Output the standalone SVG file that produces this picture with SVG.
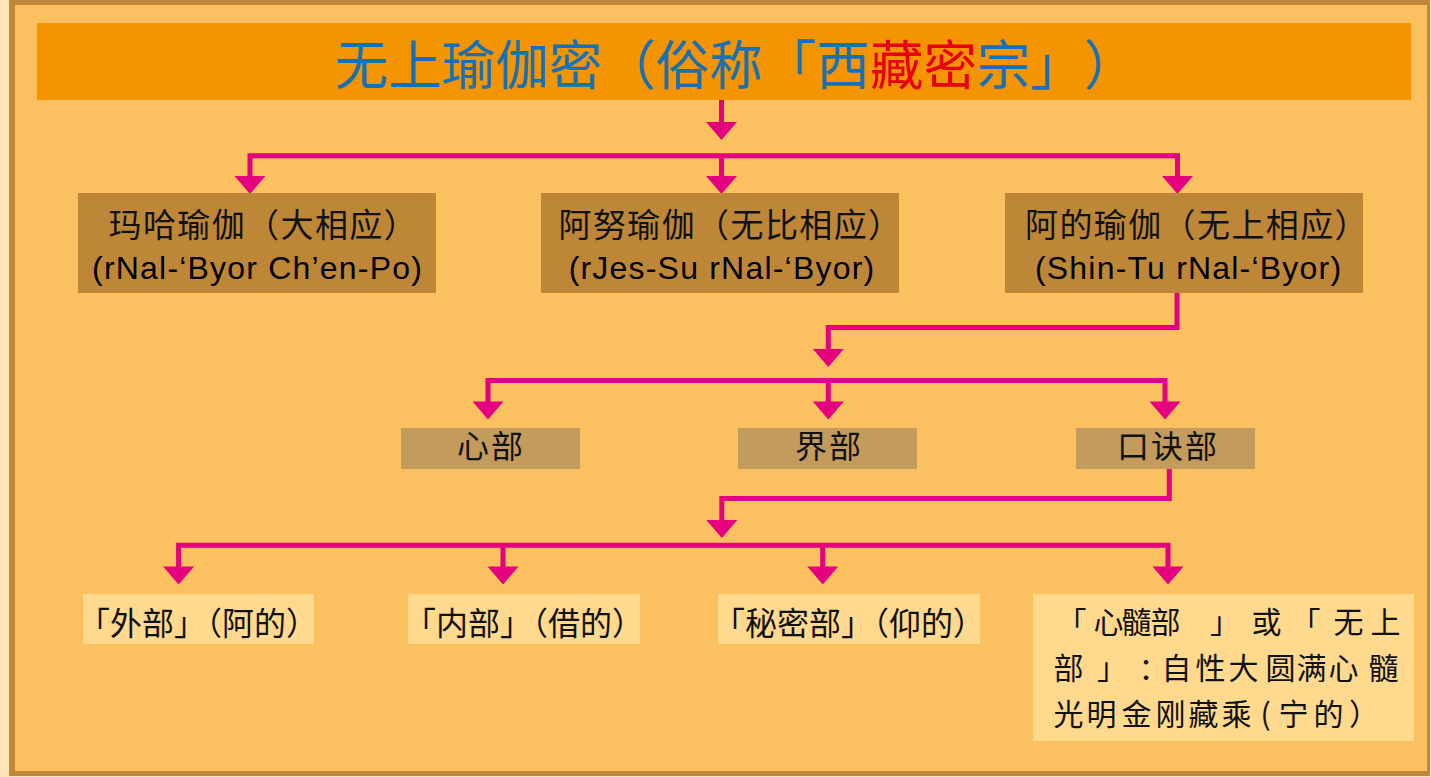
<svg xmlns="http://www.w3.org/2000/svg" xmlns:xlink="http://www.w3.org/1999/xlink" width="1431" height="777" viewBox="0 0 1431 777">
<style>
.conn{fill:none;stroke:#E4007F;stroke-width:5;stroke-linejoin:miter}
.ah{fill:#E4007F}
.b1{fill:#BE8738}
.b2{fill:#C39B5C}
.b3{fill:#FFDA8E}
.cjk{font-family:"Noto Sans CJK SC","Noto Sans CJK TC",sans-serif;fill:#111}
.lat{font-family:"Liberation Sans",Arial,sans-serif;fill:#000}
.l1a{font-size:33px;letter-spacing:1.4px}
.l1b{font-size:32px;letter-spacing:1.2px;text-anchor:middle}
.l2{font-size:32px;letter-spacing:2px;text-anchor:middle}
.l3{font-size:32px;text-anchor:middle}
.l4{font-size:30px}
.blue{fill:#1570B8}
.red{fill:#E60012}
.ttl{text-spacing-trim:space-all}
</style>
<defs>
<path id="ah" class="ah" d="M-15.5 0 H15.5 L0 18 Z"/>
</defs>
<rect x="0" y="0" width="1431" height="777" fill="#FFE6B8"/>
<rect x="9" y="0" width="1421" height="776" fill="#C0883A"/>
<rect x="15" y="5" width="1412" height="766" fill="#FBC160"/>

<g id="title">
<rect x="37" y="23" width="1374" height="77" fill="#F39400"/>
<text class="cjk blue ttl" x="335 388.5 442 495.5 549 602.5 656 709.5 763 816.5" y="84.5" font-size="53.5">无上瑜伽密（俗称「西<tspan class="red" x="870 923.5">藏密</tspan><tspan x="977 1030.5 1084">宗」）</tspan></text>
</g>

<g id="connectors">
<path class="conn" d="M721.5 100 V122"/>
<use xlink:href="#ah" x="721.5" y="122"/>
<path class="conn" d="M250 177 V155.8 H1177.5 V177"/>
<path class="conn" d="M721.5 155.8 V177"/>
<use xlink:href="#ah" x="250" y="176"/>
<use xlink:href="#ah" x="721.5" y="176"/>
<use xlink:href="#ah" x="1177.5" y="176"/>

<path class="conn" d="M1177 293 V327.5 H828.3 V349.5"/>
<use xlink:href="#ah" x="828.3" y="349"/>
<path class="conn" d="M488 402 V380.5 H1165 V402"/>
<path class="conn" d="M828.3 380.5 V402"/>
<use xlink:href="#ah" x="488" y="401.5"/>
<use xlink:href="#ah" x="828.3" y="401.5"/>
<use xlink:href="#ah" x="1165" y="401.5"/>

<path class="conn" d="M1169.3 469 V498.5 H721.8 V520.5"/>
<use xlink:href="#ah" x="721.8" y="520"/>
<path class="conn" d="M178.6 567 V545.2 H1168 V567"/>
<path class="conn" d="M503 545.2 V567 M822.7 545.2 V567"/>
<use xlink:href="#ah" x="178.6" y="566.5"/>
<use xlink:href="#ah" x="503" y="566.5"/>
<use xlink:href="#ah" x="822.7" y="566.5"/>
<use xlink:href="#ah" x="1168" y="566.5"/>
</g>

<g id="n-maha">
<rect class="b1" x="78" y="193" width="358" height="100"/>
<text class="cjk l1a" x="108.5" y="236.7">玛哈瑜伽（大相应）</text>
<text class="lat l1b" x="257.6" y="279">(rNal-‘Byor Ch’en-Po)</text>
</g>
<g id="n-anu">
<rect class="b1" x="541" y="193" width="358" height="100"/>
<text class="cjk l1a" x="558.5" y="236.7">阿努瑜伽（无比相应）</text>
<text class="lat l1b" x="722" y="279">(rJes-Su rNal-‘Byor)</text>
</g>
<g id="n-ati">
<rect class="b1" x="1005" y="193" width="358" height="100"/>
<text class="cjk l1a" x="1025" y="236.7">阿的瑜伽（无上相应）</text>
<text class="lat l1b" x="1188.6" y="279">(Shin-Tu rNal-‘Byor)</text>
</g>

<g id="n-xinbu">
<rect class="b2" x="401" y="428" width="179" height="41"/>
<text class="cjk l2" x="491" y="458">心部</text>
</g>
<g id="n-jiebu">
<rect class="b2" x="738" y="428" width="179" height="41"/>
<text class="cjk l2" x="829" y="458">界部</text>
</g>
<g id="n-koujuebu">
<rect class="b2" x="1076" y="428" width="179" height="41"/>
<text class="cjk l2" x="1168" y="458">口诀部</text>
</g>

<g id="n-waibu">
<rect class="b3" x="83" y="594" width="231" height="50"/>
<text class="cjk l3" x="198" y="634.5">「外部」（阿的）</text>
</g>
<g id="n-neibu">
<rect class="b3" x="408" y="594" width="232" height="50"/>
<text class="cjk l3" x="524" y="634.5">「内部」（借的）</text>
</g>
<g id="n-mimibu">
<rect class="b3" x="718" y="594" width="262" height="50"/>
<text class="cjk l3" x="849" y="634.5">「秘密部」（仰的）</text>
</g>
<g id="n-xinsuibu">
<rect class="b3" x="1033" y="594" width="381" height="147"/>
<text class="cjk l4" x="1056.5 1093.5 1121.5 1150.5 1210 1251.5 1290.5 1333.5 1370.5" y="633">「心髓部」或「无上</text>
<text class="cjk l4" x="1053.5 1097 1138.5 1161.5 1195.5 1228.5 1265.5 1296.5 1328.5 1368.5" y="678.6">部」：自性大圆满心髓</text>
<text class="cjk l4" x="1053.5 1086.5 1121.5 1155.5 1188.5 1221.5 1260.5 1278.5 1313.5 1349" y="724.6">光明金刚藏乘(宁的）</text>
</g>
</svg>
